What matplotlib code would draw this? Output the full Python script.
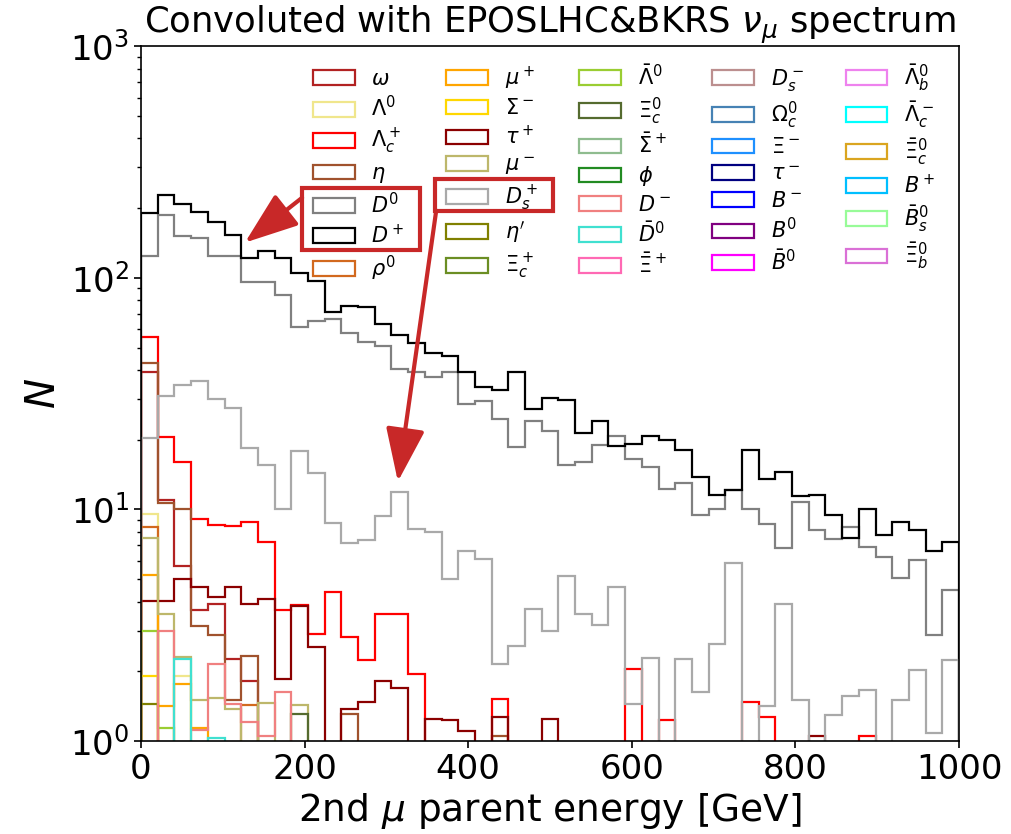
import matplotlib
matplotlib.use("Agg")
import matplotlib.pyplot as plt
import numpy as np
from matplotlib.patches import Rectangle, ArrowStyle

# 49 bins of ~20.4 GeV between 0 and 1000 GeV
edges = np.linspace(0, 1000, 50)
centers = 0.5 * (edges[:-1] + edges[1:])

labels = [r'$\omega$', r'$\Lambda^0$', r'$\Lambda_c^+$', r'$\eta$', r'$D^0$', r'$D^+$', r'$\rho^0$',
          r'$\mu^+$', r'$\Sigma^-$', r'$\tau^+$', r'$\mu^-$', r'$D_s^+$', r"$\eta'$", r'$\Xi_c^+$',
          r'$\bar{\Lambda}^0$', r'$\Xi_c^0$', r'$\bar{\Sigma}^+$', r'$\phi$', r'$D^-$', r'$\bar{D}^0$', r'$\bar{\Xi}^+$',
          r'$D_s^-$', r'$\Omega_c^0$', r'$\Xi^-$', r'$\tau^-$', r'$B^-$', r'$B^0$', r'$\bar{B}^0$',
          r'$\bar{\Lambda}_b^0$', r'$\bar{\Lambda}_c^-$', r'$\bar{\Xi}_c^0$', r'$B^+$', r'$\bar{B}_s^0$', r'$\bar{\Xi}_b^0$']

colors = ['firebrick', 'khaki', 'red', 'sienna', 'gray', 'black', 'chocolate',
          'orange', 'gold', 'darkred', 'darkkhaki', 'darkgray', 'olive', 'olivedrab',
          'yellowgreen', 'darkolivegreen', 'darkseagreen', 'forestgreen', 'lightcoral', 'turquoise', 'hotpink',
          'rosybrown', 'steelblue', 'dodgerblue', 'navy', 'blue', 'purple', 'magenta',
          'violet', 'cyan', 'goldenrod', 'deepskyblue', 'palegreen', 'orchid']

Z = 0.0
omega = [39.1, 11.0, 5.68, 3.67, 3.92, 2.26, 1.82] + [Z] * 42
lambda0 = [9.6, Z, 1.9] + [Z] * 46
lambda_c = [55.8, 20.6, 16.1, 9.1, 8.54, 8.45, 8.8, 7.24, 3.67, 3.85, 2.91, 4.39, 2.81, 2.23, 3.52, 3.52,
            1.95, Z, Z, Z, Z, 1.52, Z, Z, Z, Z, Z, Z, Z, 2.04, Z, 1.23, Z, Z, Z, Z, 1.48, 1.27,
            Z, Z, Z, Z, Z, 1.05, Z, Z, Z, Z, Z]
eta = [42.9, 10.7, 10.05, 3.15, 2.88, 1.5, 2.32, Z, Z, Z, Z, Z, 1.31, Z, Z, Z, Z, Z, Z, Z, Z, 1.05] + [Z] * 27
d0 = [124.6, 187, 151, 148.5, 123.7, 124.6, 95.9, 95.9, 84, 61.6, 64.8, 66.4, 57.8, 52.6, 50.6, 40.4,
      39.1, 37.5, 39.4, 28.6, 29.3, 24.6, 18.6, 24.2, 21.9, 15.5, 16.0, 19.0, 20.8, 16.5, 15.3, 12.3,
      13.0, 9.47, 10.05, 12.1, 10.0, 8.68, 6.82, 10.8, 8.18, 7.46, 8.4, 6.86, 6.24, 5.06, 6.07, 2.88, 4.48]
dplus = [190.5, 227, 208, 193, 175, 153, 122, 130, 122, 105, 97.4, 71, 75.8, 75.2, 63.2, 56.4,
         52.3, 47.4, 46.1, 39.4, 33.8, 32.9, 39.4, 27.2, 30.3, 29.8, 21.4, 24.2, 18.7, 19.2, 20.7, 20.0,
         18.1, 13.8, 11.6, 12.1, 18.0, 13.6, 14.5, 11.4, 11.5, 9.46, 7.5, 10.05, 7.74, 8.83, 8.12, 6.59, 7.24]
rho0 = [8.37, Z, Z, Z, Z, Z, 1.43] + [Z] * 42
mu_plus = [5.23, 1.41, 1.77, 1.14] + [Z] * 45
sigma_minus = [1.9] + [Z] * 48
tau_plus = [4.01, 4.01, 5.03, 4.63, 4.18, 4.63, 3.92, 4.11, 1.86, 3.82, 2.54, Z, 1.37, 1.48, 1.81, 1.69,
            Z, 1.25, 1.23, 1.10, Z, 1.27, Z, Z, 1.25] + [Z] * 15 + [1.05] + [Z] * 8
mu_minus = [7.53, 3.55, 2.3, 1.50, 1.53, 1.38, Z, 1.46, Z, 1.43] + [Z] * 39
ds_plus = [20.4, 31, 34.4, 35.7, 29.9, 27.4, 18.4, 15.5, 10.05, 17.8, 14.3, 8.74, 7.17, 7.41, 9.34, 11.9,
           8.24, 8.0, 5.03, 6.64, 6.11, 2.14, 2.57, 3.73, 3.0, 5.14, 3.54, 3.18, 4.63, 1.45, 2.29, Z,
           2.26, 1.62, 2.63, 5.88, Z, 1.41, 3.91, 1.50, Z, 1.30, 1.56, 1.66, Z, 1.51, 2.02, 1.08, 2.23]
eta_prime = [1.45] + [Z] * 48
xi_c_plus = [Z] * 49
lambda0_bar = [2.98, 1.14] + [Z] * 47
xi_c0 = [Z] * 9 + [1.31] + [Z] * 39
sigma_bar = [Z] * 49
phi = [Z] * 49
d_minus = [Z, 2.98, Z, 1.12, 2.15, 1.45, 1.21, 1.05, 1.62] + [Z] * 40
d0_bar = [Z, Z, 2.26, Z, 1.03] + [Z] * 44
xi_bar_plus = [Z] * 49
ds_minus = [Z] * 49
omega_c0 = [Z] * 49
xi_minus = [Z] * 49
tau_minus = [Z] * 49
b_minus = [Z] * 49
b0 = [Z] * 49
b0_bar = [Z] * 49
lambda_b_bar = [Z] * 49
lambda_c_bar = [Z] * 49
xi_c0_bar = [Z] * 49
b_plus = [Z] * 49
bs_bar = [Z] * 49
xi_b_bar = [Z] * 49

counts = [omega, lambda0, lambda_c, eta, d0, dplus, rho0,
          mu_plus, sigma_minus, tau_plus, mu_minus, ds_plus, eta_prime, xi_c_plus,
          lambda0_bar, xi_c0, sigma_bar, phi, d_minus, d0_bar, xi_bar_plus,
          ds_minus, omega_c0, xi_minus, tau_minus, b_minus, b0, b0_bar,
          lambda_b_bar, lambda_c_bar, xi_c0_bar, b_plus, bs_bar, xi_b_bar]

fig = plt.figure(figsize=(10.11, 8.34), dpi=100)
ax = fig.add_axes([0.1395, 0.1115, 0.8091, 0.8330])
ax.set_yscale('log')

for vals, col, lab in zip(counts, colors, labels):
    ax.hist(centers, bins=edges, weights=vals, histtype='step', color=col, label=lab, lw=1.6)

ax.set_xlim(0, 1000)
ax.set_ylim(1, 1000)
ax.set_title(r'Convoluted with EPOSLHC&BKRS $\nu_\mu$ spectrum', fontsize=25.5)
ax.set_xlabel(r'2nd $\mu$ parent energy [GeV]', fontsize=27)
ax.set_ylabel(r'$N$', fontsize=29)
ax.tick_params(axis='both', which='major', labelsize=24.5, length=5, width=1.2)
ax.tick_params(axis='y', which='minor', length=3, width=1)
for s in ax.spines.values():
    s.set_linewidth(1.2)

leg = ax.legend(ncol=5, loc='upper right', frameon=False, fontsize=15,
                labelspacing=0.32, bbox_to_anchor=(0.994, 1.004))

# highlight boxes and arrows
fig.canvas.draw()
rend = fig.canvas.get_renderer()
ann = '#c82828'


def draw_box(ids):
    hs = [leg.legend_handles[i].get_window_extent(rend) for i in ids]
    ts = [leg.get_texts()[i].get_window_extent(rend) for i in ids]
    x0 = min(h.x0 for h in hs) - 11
    x1 = max(t.x1 for t in ts) + 15
    y1 = max(0.5 * (h.y0 + h.y1) for h in hs) + 18
    y0 = min(0.5 * (h.y0 + h.y1) for h in hs) - 14
    W, H = fig.bbox.width, fig.bbox.height
    fig.add_artist(Rectangle((x0 / W, y0 / H), (x1 - x0) / W, (y1 - y0) / H,
                             transform=fig.transFigure, fill=False, ec=ann, lw=3, zorder=10))
    return x0, y0, x1, y1


b1 = draw_box([4, 5])
b2 = draw_box([11])

style = ArrowStyle('-|>', head_length=1.5, head_width=0.55)
ax.annotate('', xy=(127, 142), xycoords='data', xytext=(b1[0], b1[3] - 10), textcoords='figure pixels',
            arrowprops=dict(arrowstyle=style, color=ann, lw=3, shrinkA=0, shrinkB=0, mutation_scale=22),
            annotation_clip=False)
ax.annotate('', xy=(314, 13.2), xycoords='data', xytext=(b2[0] + 1, b2[1]), textcoords='figure pixels',
            arrowprops=dict(arrowstyle=style, color=ann, lw=3, shrinkA=0, shrinkB=0, mutation_scale=22),
            annotation_clip=False)

fig.savefig('out.png', dpi=100)
